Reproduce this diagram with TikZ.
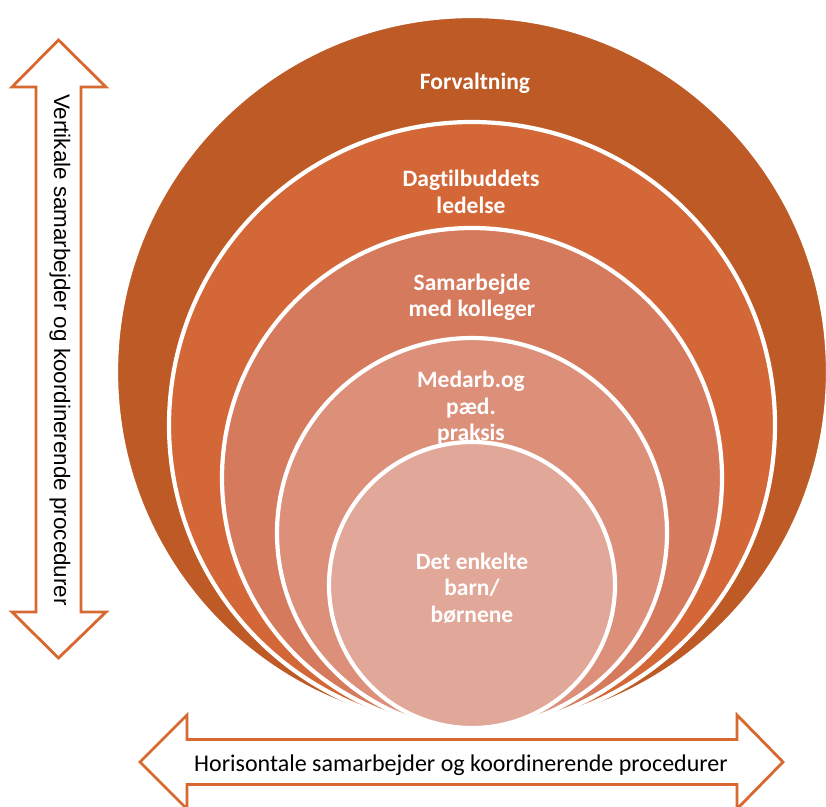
\documentclass[tikz,border=0pt]{standalone}
\usepackage{fontspec}
\setmainfont[Ligatures=NoCommon]{Carlito}
\newfontfamily\arialfont[Ligatures=NoCommon]{Liberation Sans}
\usetikzlibrary{calc}

\definecolor{ringA}{RGB}{190,90,37}
\definecolor{ringB}{RGB}{212,103,55}
\definecolor{ringC}{RGB}{213,122,92}
\definecolor{ringD}{RGB}{220,143,121}
\definecolor{ringE}{RGB}{225,167,152}
\definecolor{arrowline}{RGB}{214,104,48}

\tikzset{
    ring/.style={draw=white, line width=4.2pt},
    ringlabel/.style={text=white, font=\fontsize{23.5}{26.5}\selectfont\bfseries, align=center, inner sep=0pt},
    bigarrow/.style={draw=arrowline, fill=white, line width=2.8pt, line join=miter},
    arrowlabel/.style={inner sep=0pt, text=black}
}

\begin{document}
\begin{tikzpicture}[x=1pt, y=1pt]
    \useasboundingbox (0,0) rectangle (826,-806);

    % nested circles, all touching at the bottom point
    \coordinate (base) at (472,-728);
    \foreach \r/\c in {356/ringA, 303/ringB, 250/ringC, 195/ringD, 143/ringE}{
        \filldraw[ring, fill=\c] ($(base)+(0,\r)$) circle[radius=\r pt];
    }

    \node[ringlabel] (forv) at (475,-83) {Forvaltning};
    \node[ringlabel] (ledelse) at (471,-192) {Dagtilbuddets\\ledelse};
    \node[ringlabel] (kolleger) at (472,-297) {Samarbejde\\med kolleger};
    \node[ringlabel] (praksis) at (471,-408) {Medarb.og\\pæd.\\praksis};
    \node[ringlabel] (barn) at (472,-588) {Det enkelte\\barn/\\børnene};

    % vertical double arrow
    \draw[bigarrow] (58.5,-40) -- (106,-87) -- (81,-87) -- (81,-612) -- (106,-612)
        -- (58.5,-658) -- (12,-612) -- (36,-612) -- (36,-87) -- (12,-87) -- cycle;
    \node[arrowlabel, rotate=-90, font=\arialfont\fontsize{22.4}{25}\selectfont] (vert) at (60,-350)
        {Vertikale samarbejder og koordinerende procedurer};

    % horizontal double arrow
    \draw[bigarrow] (140,-762) -- (187,-715) -- (187,-739.5) -- (737,-739.5) -- (737,-715)
        -- (783,-762) -- (737,-809) -- (737,-784.5) -- (187,-784.5) -- (187,-809) -- cycle;
    \node[arrowlabel, font=\fontsize{24}{28}\selectfont] (hori) at (461,-765)
        {Horisontale samarbejder og koordinerende procedurer};
\end{tikzpicture}
\end{document}
